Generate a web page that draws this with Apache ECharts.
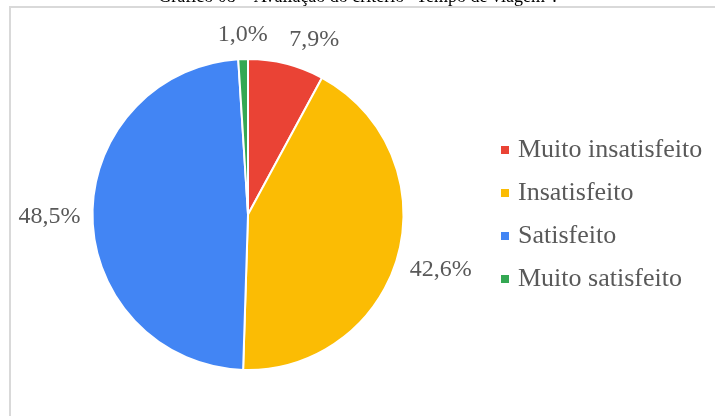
<!DOCTYPE html>
<html><head><meta charset="utf-8">
<script src="https://cdn.jsdelivr.net/npm/echarts@6/dist/echarts.min.js"></script>
<style>html,body{margin:0;padding:0;background:#fff}#c{width:715px;height:416px}</style>
</head><body><div id="c"></div>
<script>
const titleText = 'Gráfico 08 – Avaliação do critério "Tempo de viagem".';
const categories = ['Muito insatisfeito', 'Insatisfeito', 'Satisfeito', 'Muito satisfeito'];
const values = [7.9, 42.6, 48.5, 1.0];
const colors = ['#EA4335', '#FBBC04', '#4285F4', '#34A853'];

const CX = 248, CY = 214.5, R = 155.5, GAP = 12;
const total = values.reduce((a, b) => a + b, 0);
const midAngles = [];
{ let acc = 0; values.forEach(v => { midAngles.push((acc + v / 2) / total * 2 * Math.PI); acc += v; }); }

const chart = echarts.init(document.getElementById('c'), null, {renderer: 'canvas'});
const font = '"Liberation Serif", "Times New Roman", serif';
chart.setOption({
  animation: false,
  title: {
    text: titleText, left: 'center', top: -12, padding: 0,
    textStyle: {fontFamily: font, fontSize: 18, fontWeight: 'normal', color: '#000'}
  },
  graphic: [{
    type: 'polyline', silent: true,
    shape: {points: [[10, 420], [10, 7], [720, 7]]},
    style: {stroke: '#d9d9d9', lineWidth: 2, fill: null}
  }],
  legend: {
    orient: 'vertical', left: 494, top: 132, itemWidth: 10, itemHeight: 10, itemGap: 17,
    icon: 'rect',
    textStyle: {fontFamily: font, fontSize: 26, color: '#595959', padding: [0, 0, 0, 3]},
    data: categories
  },
  series: [{
    type: 'pie', center: [CX, CY], radius: R, startAngle: 90, clockwise: true,
    avoidLabelOverlap: false,
    itemStyle: {borderColor: '#fff', borderWidth: 2},
    label: {
      show: true, position: 'outside', fontFamily: font, fontSize: 24, color: '#595959',
      formatter: p => p.value.toFixed(1).replace('.', ',') + '%'
    },
    labelLine: {show: false, length: 0, length2: 0},
    data: categories.map((n, i) => ({name: n, value: values[i], itemStyle: {color: colors[i]}})),
    labelLayout: function (params) {
      const a = midAngles[params.dataIndex];
      const dx = Math.sin(a), dy = -Math.cos(a);
      const hx = Math.abs(dx) < 0.1 ? 0 : Math.sign(dx);
      const hy = Math.abs(dy) < 0.1 ? 0 : Math.sign(dy);
      const r = params.labelRect;
      const w = r.width, h = r.height;
      const tx = CX + dx * (R + GAP) + hx * w / 2;
      const ty = CY + dy * (R + GAP) + hy * h / 2;
      return {dx: tx - (r.x + w / 2), dy: ty - (r.y + h / 2)};
    }
  }]
});
</script></body></html>
